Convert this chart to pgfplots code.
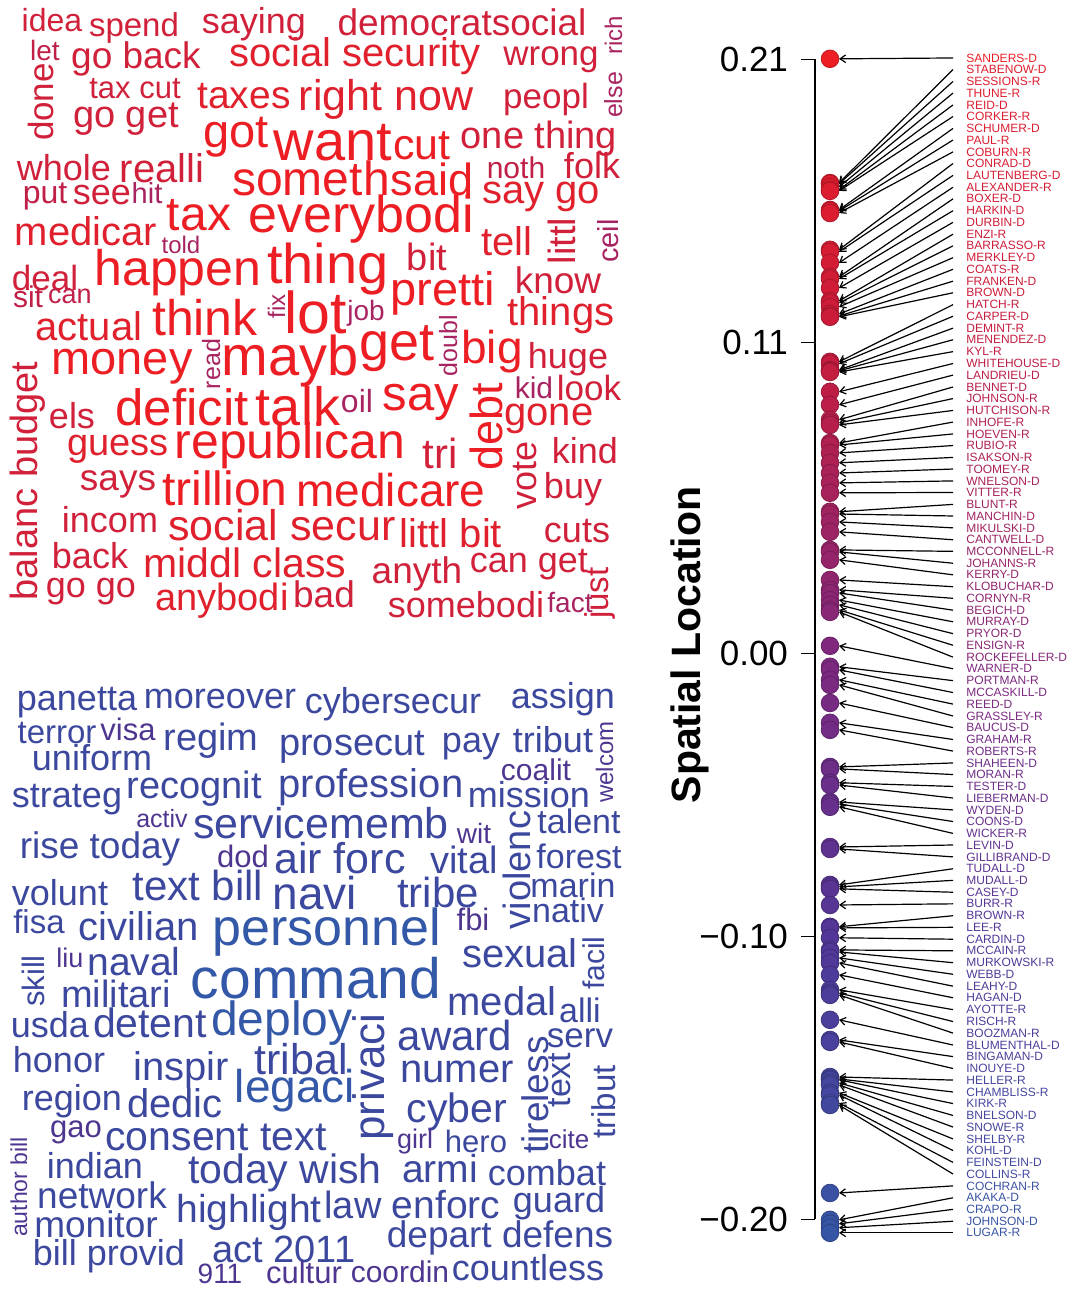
\documentclass[border=0pt]{standalone}
\usepackage{fontspec}
\setmainfont{Liberation Sans}
\usepackage{pgfplots}
\usepackage{pgfplotstable}
\pgfplotsset{compat=1.18}
\usetikzlibrary{arrows.meta}

\definecolor{r1}{RGB}{236,30,36}
\definecolor{r2}{RGB}{224,32,44}
\definecolor{r3}{RGB}{208,32,58}
\definecolor{r4}{RGB}{192,32,72}
\definecolor{r5}{RGB}{168,36,96}
\definecolor{b1}{RGB}{52,88,168}
\definecolor{b2}{RGB}{60,72,158}
\definecolor{b3}{RGB}{78,54,144}

% word: x, baseline y (pixels), size (pt), rotation, colour, text
\newcommand\wc[6]{\node[anchor=base,inner sep=0pt,text=#5,rotate=#4,
  font=\fontsize{#3}{#3}\selectfont] at (axis cs:#1,#2) {#6};}

% senators: label slot, spatial location
\pgfplotstableread{
name lab val
SANDERS-D 0.2105 0.2102
STABENOW-D 0.2064 0.1663
SESSIONS-R 0.2022 0.1660
THUNE-R 0.1981 0.1649
REID-D 0.1939 0.1639
CORKER-R 0.1898 0.1635
SCHUMER-D 0.1856 0.1568
PAUL-R 0.1815 0.1564
COBURN-R 0.1773 0.1557
CONRAD-D 0.1732 0.1427
LAUTENBERG-D 0.1690 0.1420
ALEXANDER-R 0.1648 0.1381
BOXER-D 0.1607 0.1331
HARKIN-D 0.1565 0.1324
DURBIN-D 0.1524 0.1292
ENZI-R 0.1482 0.1246
BARRASSO-R 0.1441 0.1239
MERKLEY-D 0.1399 0.1225
COATS-R 0.1358 0.1200
FRANKEN-D 0.1316 0.1193
BROWN-D 0.1275 0.1190
HATCH-R 0.1233 0.1031
CARPER-D 0.1192 0.1024
DEMINT-R 0.1150 0.1002
MENENDEZ-D 0.1109 0.0999
KYL-R 0.1067 0.0995
WHITEHOUSE-D 0.1025 0.0925
LANDRIEU-D 0.0984 0.0879
BENNET-D 0.0942 0.0826
JOHNSON-R 0.0901 0.0815
HUTCHISON-R 0.0859 0.0808
INHOFE-R 0.0818 0.0744
HOEVEN-R 0.0776 0.0737
RUBIO-R 0.0735 0.0709
ISAKSON-R 0.0693 0.0674
TOOMEY-R 0.0652 0.0638
WNELSON-D 0.0610 0.0603
VITTER-R 0.0569 0.0568
BLUNT-R 0.0527 0.0501
MANCHIN-D 0.0486 0.0493
MIKULSKI-D 0.0444 0.0465
CANTWELL-D 0.0402 0.0430
MCCONNELL-R 0.0361 0.0366
JOHANNS-R 0.0319 0.0359
KERRY-D 0.0278 0.0331
KLOBUCHAR-D 0.0236 0.0260
CORNYN-R 0.0195 0.0225
BEGICH-D 0.0153 0.0214
MURRAY-D 0.0112 0.0189
PRYOR-D 0.0070 0.0172
ENSIGN-R 0.0029 0.0154
ROCKEFELLER-D -0.0013 0.0147
WARNER-D -0.0054 0.0027
PORTMAN-R -0.0096 -0.0047
MCCASKILL-D -0.0138 -0.0058
REED-D -0.0179 -0.0093
GRASSLEY-R -0.0221 -0.0111
BAUCUS-D -0.0262 -0.0175
GRAHAM-R -0.0304 -0.0245
ROBERTS-R -0.0345 -0.0270
SHAHEEN-D -0.0387 -0.0401
MORAN-R -0.0428 -0.0408
TESTER-D -0.0470 -0.0457
LIEBERMAN-D -0.0511 -0.0465
WYDEN-D -0.0553 -0.0525
COONS-D -0.0594 -0.0532
WICKER-R -0.0636 -0.0542
LEVIN-D -0.0677 -0.0684
GILLIBRAND-D -0.0719 -0.0691
TUDALL-D -0.0761 -0.0818
MUDALL-D -0.0802 -0.0825
CASEY-D -0.0844 -0.0832
BURR-R -0.0885 -0.0889
BROWN-R -0.0927 -0.0966
LEE-R -0.0968 -0.0970
CARDIN-D -0.1010 -0.1005
MCCAIN-R -0.1051 -0.1048
MURKOWSKI-R -0.1093 -0.1055
WEBB-D -0.1134 -0.1076
LEAHY-D -0.1176 -0.1094
HAGAN-D -0.1217 -0.1136
AYOTTE-R -0.1259 -0.1189
RISCH-R -0.1301 -0.1200
BOOZMAN-R -0.1342 -0.1207
BLUMENTHAL-D -0.1384 -0.1295
BINGAMAN-D -0.1425 -0.1366
INOUYE-D -0.1467 -0.1373
HELLER-R -0.1508 -0.1497
CHAMBLISS-R -0.1550 -0.1504
KIRK-R -0.1591 -0.1507
BNELSON-D -0.1633 -0.1518
SNOWE-R -0.1674 -0.1525
SHELBY-R -0.1716 -0.1553
KOHL-D -0.1757 -0.1560
FEINSTEIN-D -0.1799 -0.1589
COLLINS-R -0.1840 -0.1596
COCHRAN-R -0.1882 -0.1907
AKAKA-D -0.1924 -0.2002
CRAPO-R -0.1965 -0.2016
JOHNSON-D -0.2007 -0.2030
LUGAR-R -0.2048 -0.2048
}\senators

\begin{document}
\begin{tikzpicture}

% word clouds, in pixel coordinates
\begin{axis}[at={(0pt,0pt)}, anchor=south west, scale only axis,
  width=538pt, height=645pt, xmin=0, xmax=1076, ymin=0, ymax=1290,
  y dir=reverse, hide axis, clip=false]
\wc{52}{32}{16}{0}{r3}{idea}
\wc{134}{36}{16.5}{0}{r3}{spend}
\wc{254}{33}{18}{0}{r3}{saying}
\wc{462}{35}{18.5}{0}{r3}{democratsocial}
\wc{622}{35}{12}{90}{r5}{rich}
\wc{622}{95}{12.5}{90}{r5}{else}
\wc{45}{61}{14}{0}{r4}{let}
\wc{53}{102}{17.5}{90}{r3}{done}
\wc{136}{68}{18.5}{0}{r3}{go back}
\wc{355}{66}{20}{0}{r2}{social security}
\wc{551}{65}{17.5}{0}{r3}{wrong}
\wc{135}{98}{15.5}{0}{r3}{tax cut}
\wc{244}{108}{19.5}{0}{r2}{taxes}
\wc{386}{110}{21.5}{0}{r2}{right now}
\wc{546}{108}{17.5}{0}{r3}{peopl}
\wc{126}{127}{19}{0}{r3}{go get}
\wc{236}{147}{23.5}{0}{r1}{got}
\wc{333}{160}{28}{0}{r1}{want}
\wc{422}{159}{21.5}{0}{r1}{cut}
\wc{539}{148}{19}{0}{r3}{one thing}
\wc{64}{180}{18}{0}{r3}{whole}
\wc{162}{182}{20}{0}{r3}{realli}
\wc{311}{195}{24}{0}{r1}{someth}
\wc{432}{195}{22.5}{0}{r1}{said}
\wc{516}{178}{15}{0}{r4}{noth}
\wc{592}{178}{18}{0}{r3}{folk}
\wc{45}{203}{16}{0}{r4}{put}
\wc{102}{204}{18}{0}{r3}{see}
\wc{147}{203}{14.5}{0}{r5}{hit}
\wc{541}{203}{20}{0}{r2}{say go}
\wc{199}{230}{24}{0}{r1}{tax}
\wc{361}{232}{26}{0}{r1}{everybodi}
\wc{86}{245}{20}{0}{r2}{medicar}
\wc{181}{253}{12}{0}{r5}{told}
\wc{507}{255}{20}{0}{r2}{tell}
\wc{575}{241}{19}{90}{r3}{littl}
\wc{618}{241}{14.5}{90}{r5}{ceil}
\wc{178}{285}{25}{0}{r1}{happen}
\wc{328}{283}{28}{0}{r1}{thing}
\wc{427}{270}{19}{0}{r3}{bit}
\wc{558}{293}{18.5}{0}{r3}{know}
\wc{45}{290}{17.5}{0}{r3}{deal}
\wc{28}{307}{15}{0}{r4}{sit}
\wc{70}{303}{13.5}{0}{r4}{can}
\wc{285}{306}{12}{90}{r5}{fix}
\wc{316}{333}{29.5}{0}{r1}{lot}
\wc{366}{320}{14}{0}{r5}{job}
\wc{443}{305}{23.5}{0}{r1}{pretti}
\wc{561}{325}{20}{0}{r2}{things}
\wc{205}{335}{25}{0}{r1}{think}
\wc{89}{340}{20}{0}{r2}{actual}
\wc{122}{374}{23.5}{0}{r1}{money}
\wc{220}{364}{12.5}{90}{r5}{read}
\wc{290}{375}{28}{0}{r1}{mayb}
\wc{397}{360}{27}{0}{r1}{get}
\wc{457}{346}{12.5}{90}{r5}{doubl}
\wc{492}{363}{23}{0}{r1}{big}
\wc{568}{368}{18}{0}{r3}{huge}
\wc{534}{398}{15}{0}{r5}{kid}
\wc{589}{400}{17.5}{0}{r3}{look}
\wc{37}{481}{19}{90}{r3}{balanc budget}
\wc{72}{428}{18}{0}{r3}{els}
\wc{182}{425}{25.5}{0}{r1}{deficit}
\wc{298}{425}{27}{0}{r1}{talk}
\wc{357}{412}{16}{0}{r5}{oil}
\wc{421}{410}{24.5}{0}{r1}{say}
\wc{502}{427}{22.5}{90}{r1}{debt}
\wc{549}{425}{20}{0}{r2}{gone}
\wc{118}{455}{19}{0}{r2}{guess}
\wc{290}{458}{25}{0}{r1}{republican}
\wc{440}{468}{21}{0}{r3}{tri}
\wc{536}{475}{18}{90}{r3}{vote}
\wc{585}{463}{18}{0}{r3}{kind}
\wc{118}{490}{18.5}{0}{r3}{says}
\wc{225}{505}{24}{0}{r1}{trillion}
\wc{391}{506}{23}{0}{r1}{medicare}
\wc{573}{498}{18}{0}{r3}{buy}
\wc{110}{532}{18}{0}{r3}{incom}
\wc{282}{540}{21.5}{0}{r2}{social secur}
\wc{451}{547}{20}{0}{r2}{littl bit}
\wc{577}{542}{18}{0}{r3}{cuts}
\wc{90}{568}{18}{0}{r3}{back}
\wc{245}{577}{20.5}{0}{r2}{middl class}
\wc{417}{583}{18.5}{0}{r3}{anyth}
\wc{529}{572}{18}{0}{r3}{can get}
\wc{608}{593}{16.5}{90}{r3}{just}
\wc{91}{597}{18}{0}{r3}{go go}
\wc{222}{610}{19}{0}{r2}{anybodi}
\wc{324}{607}{18.5}{0}{r3}{bad}
\wc{466}{617}{18}{0}{r3}{somebodi}
\wc{570}{612}{14}{0}{r5}{fact}
% second cloud
\wc{77}{710}{18}{0}{b2}{panetta}
\wc{220}{708}{18}{0}{b2}{moreover}
\wc{393}{713}{18}{0}{b2}{cybersecur}
\wc{563}{708}{18}{0}{b2}{assign}
\wc{57}{743}{16.5}{0}{b2}{terror}
\wc{128}{740}{15.5}{0}{b3}{visa}
\wc{211}{750}{19}{0}{b2}{regim}
\wc{92}{770}{18}{0}{b2}{uniform}
\wc{352}{755}{19}{0}{b2}{prosecut}
\wc{471}{752}{18}{0}{b2}{pay}
\wc{553}{752}{18}{0}{b2}{tribut}
\wc{613}{762}{12}{90}{b3}{welcom}
\wc{67}{807}{18}{0}{b2}{strateg}
\wc{194}{798}{19}{0}{b2}{recognit}
\wc{371}{797}{20}{0}{b2}{profession}
\wc{536}{780}{15}{0}{b3}{coalit}
\wc{529}{807}{18}{0}{b2}{mission}
\wc{162}{827}{12.5}{0}{b3}{activ}
\wc{321}{838}{21.5}{0}{b2}{servicememb}
\wc{474}{843}{14}{0}{b3}{wit}
\wc{530}{870}{19}{90}{b2}{violenc}
\wc{579}{833}{17}{0}{b2}{talent}
\wc{100}{858}{18.5}{0}{b2}{rise today}
\wc{243}{867}{15.5}{0}{b3}{dod}
\wc{340}{873}{21.5}{0}{b2}{air forc}
\wc{464}{873}{19}{0}{b2}{vital}
\wc{579}{868}{17}{0}{b2}{forest}
\wc{60}{905}{18}{0}{b2}{volunt}
\wc{198}{900}{21}{0}{b2}{text bill}
\wc{315}{909}{23}{0}{b2}{navi}
\wc{438}{907}{21}{0}{b2}{tribe}
\wc{573}{897}{17}{0}{b2}{marin}
\wc{568}{922}{17}{0}{b2}{nativ}
\wc{473}{930}{15.5}{0}{b3}{fbi}
\wc{39}{933}{16.5}{0}{b2}{fisa}
\wc{139}{940}{20}{0}{b2}{civilian}
\wc{327}{945}{26}{0}{b1}{personnel}
\wc{520}{967}{20}{0}{b2}{sexual}
\wc{604}{963}{15}{90}{b2}{facil}
\wc{44}{981}{15.5}{90}{b2}{skill}
\wc{70}{967}{13.5}{0}{b3}{liu}
\wc{134}{975}{19.5}{0}{b2}{naval}
\wc{316}{998}{28.5}{0}{b1}{command}
\wc{116}{1007}{19}{0}{b2}{militari}
\wc{502}{1015}{20}{0}{b2}{medal}
\wc{580}{1022}{17}{0}{b2}{alli}
\wc{50}{1037}{18}{0}{b2}{usda}
\wc{150}{1037}{20.5}{0}{b2}{detent}
\wc{282}{1035}{24}{0}{b1}{deploy}
\wc{384}{1077}{22}{90}{b2}{privaci}
\wc{455}{1050}{21}{0}{b2}{award}
\wc{580}{1047}{17.5}{0}{b2}{serv}
\wc{548}{1095}{18.5}{90}{b2}{tireless}
\wc{570}{1080}{17}{90}{b2}{text}
\wc{615}{1102}{16.5}{90}{b2}{tribut}
\wc{59}{1072}{18}{0}{b2}{honor}
\wc{181}{1080}{20}{0}{b2}{inspir}
\wc{301}{1074}{21.5}{0}{b2}{tribal}
\wc{457}{1082}{20}{0}{b2}{numer}
\wc{295}{1102}{23}{0}{b1}{legaci}
\wc{72}{1110}{18}{0}{b2}{region}
\wc{175}{1117}{20}{0}{b2}{dedic}
\wc{457}{1122}{20.5}{0}{b2}{cyber}
\wc{27}{1187}{11.5}{90}{b3}{author bill}
\wc{76}{1137}{15.5}{0}{b3}{gao}
\wc{216}{1150}{20.5}{0}{b2}{consent text}
\wc{415}{1148}{13.5}{0}{b3}{girl}
\wc{476}{1152}{15.5}{0}{b2}{hero}
\wc{569}{1148}{13}{0}{b3}{cite}
\wc{95}{1178}{18}{0}{b2}{indian}
\wc{285}{1183}{20.5}{0}{b2}{today wish}
\wc{440}{1182}{19.5}{0}{b2}{armi}
\wc{547}{1185}{18}{0}{b2}{combat}
\wc{102}{1208}{18.5}{0}{b2}{network}
\wc{249}{1222}{19.5}{0}{b2}{highlight}
\wc{353}{1218}{19}{0}{b2}{law}
\wc{446}{1218}{19.5}{0}{b2}{enforc}
\wc{559}{1212}{18}{0}{b2}{guard}
\wc{96}{1237}{18.5}{0}{b2}{monitor}
\wc{500}{1247}{18.5}{0}{b2}{depart defens}
\wc{109}{1265}{18}{0}{b2}{bill provid}
\wc{284}{1262}{19}{0}{b2}{act 2011}
\wc{220}{1283}{14}{0}{b3}{911}
\wc{304}{1283}{15.5}{0}{b3}{cultur}
\wc{400}{1282}{15}{0}{b3}{coordin}
\wc{528}{1280}{18}{0}{b2}{countless}
\end{axis}

% spatial locations
\begin{axis}[at={(407.5pt,0pt)}, anchor=south west, scale only axis,
  width=130.5pt, height=645pt, xmin=0, xmax=261, ymin=-0.2250, ymax=0.2310,
  axis x line=none, axis y line*=left, y axis line style={draw=none},
  ytick={-0.2,-0.1,0,0.11,0.21},
  yticklabels={−0.20,−0.10,0.00,0.11,0.21},
  tick align=outside, major tick length=7pt,
  ytick style={black, line width=0.7pt},
  yticklabel style={font=\fontsize{17.5}{17.5}\selectfont, xshift=-3pt},
  clip=false,
  colormap={senate}{rgb255(0cm)=(55,85,165) rgb255(1cm)=(82,55,152)
    rgb255(2cm)=(128,40,125) rgb255(3cm)=(200,28,60) rgb255(4cm)=(237,30,36)},
  point meta min=-0.205, point meta max=0.21]
\draw[line width=0.7pt] (axis cs:0,0.21) -- (axis cs:0,-0.20);
\node[rotate=90, anchor=base, font=\bfseries\fontsize{20.5}{20.5}\selectfont]
  at (axis cs:-115,0.003) {Spatial Location};
\addplot[black, line width=0.6pt, -{Straight Barb[length=2.8pt,width=3.8pt]},
  quiver={u=-114, v=\thisrow{val}-\thisrow{lab}}]
  table[x expr=138, y=lab] {\senators};
\addplot[scatter, only marks, mark=*, mark size=4.4pt, point meta=\thisrow{val}]
  table[x expr=15, y=val] {\senators};
\addplot[draw=none, mark=none, point meta=explicit symbolic,
  visualization depends on={(\thisrow{val}+0.205)*2409.6 \as \cv},
  nodes near coords,
  every node near coord/.append style={anchor=west, inner sep=0pt,
    color of colormap={\cv}, font=\fontsize{6}{6}\selectfont}]
  table[x expr=151, y=lab, meta=name] {\senators};
\end{axis}

\pgfresetboundingbox
\path (0pt,0pt) rectangle (538pt,645pt);
\end{tikzpicture}
\end{document}
